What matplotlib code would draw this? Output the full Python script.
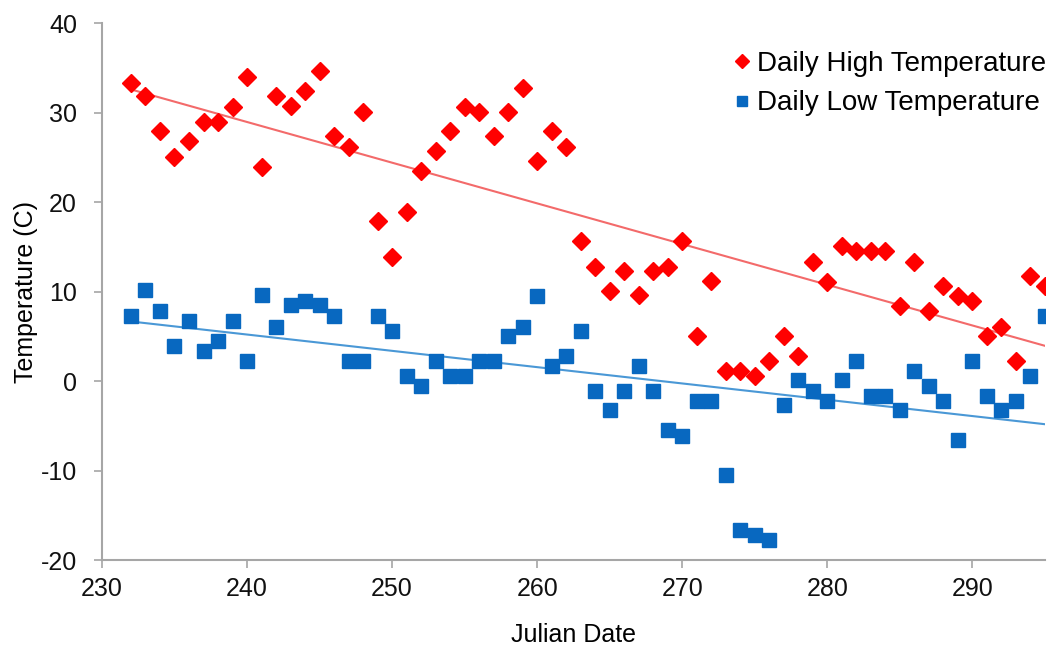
import matplotlib

matplotlib.use("Agg")
import matplotlib.pyplot as plt
import numpy as np

plt.rcParams["font.family"] = ["Liberation Sans", "DejaVu Sans"]
plt.rcParams["axes.unicode_minus"] = False

# Julian dates 232..295
days = list(range(232, 296))

high_temp = [
    33.3, 31.8, 27.9, 25.0, 26.8, 28.9, 28.9, 30.6, 34.0, 23.9,
    31.8, 30.7, 32.4, 34.6, 27.4, 26.1, 30.1, 17.9, 13.9, 18.9,
    23.5, 25.7, 27.9, 30.6, 30.1, 27.4, 30.1, 32.8, 24.6, 27.9,
    26.1, 15.6, 12.8, 10.1, 12.3, 9.6, 12.3, 12.8, 15.6, 5.0,
    11.2, 1.1, 1.1, 0.6, 2.3, 5.0, 2.8, 13.3, 11.1, 15.1,
    14.5, 14.5, 14.5, 8.4, 13.3, 7.8, 10.6, 9.5, 8.9, 5.0,
    6.1, 2.2, 11.7, 10.6,
]

low_temp = [
    7.3, 10.2, 7.8, 3.9, 6.7, 3.4, 4.5, 6.7, 2.2, 9.6,
    6.1, 8.5, 8.9, 8.5, 7.3, 2.2, 2.2, 7.3, 5.6, 0.6,
    -0.6, 2.2, 0.6, 0.6, 2.2, 2.2, 5.0, 6.1, 9.5, 1.7,
    2.8, 5.6, -1.1, -3.2, -1.1, 1.7, -1.1, -5.5, -6.1, -2.2,
    -2.2, -10.5, -16.6, -17.2, -17.8, -2.7, 0.1, -1.1, -2.2, 0.1,
    2.2, -1.7, -1.7, -3.2, 1.1, -0.5, -2.2, -6.6, 2.2, -1.7,
    -3.2, -2.2, 0.6, 7.3,
]

x_ticks = [230, 240, 250, 260, 270, 280, 290]
y_ticks = [-20, -10, 0, 10, 20, 30, 40]

RED = "#ff0000"
BLUE = "#0868c0"
AXIS_GREY = "#a6a6a6"

fig = plt.figure(figsize=(10.62, 6.59), dpi=100)
ax = fig.add_axes([0.096, 0.150, 0.888, 0.815])

x = np.array(days, dtype=float)
hi = np.array(high_temp)
lo = np.array(low_temp)

# linear trendlines
for y, col in ((hi, "#f36a6a"), (lo, "#4a98d6")):
    k, b = np.polyfit(x, y, 1)
    ax.plot([x[0], x[-1]], [k * x[0] + b, k * x[-1] + b], color=col, linewidth=1.5, zorder=2)

ax.plot(x, hi, linestyle="none", marker="D", markersize=9, color=RED,
        label="Daily High Temperature", zorder=3)
ax.plot(x, lo, linestyle="none", marker="s", markersize=10, color=BLUE,
        label="Daily Low Temperature", zorder=3)

ax.set_xlim(230, 295)
ax.set_ylim(-20, 40)
ax.set_xticks(x_ticks)
ax.set_yticks(y_ticks)

for side in ("top", "right"):
    ax.spines[side].set_visible(False)
for side in ("left", "bottom"):
    ax.spines[side].set_color(AXIS_GREY)
    ax.spines[side].set_linewidth(1.5)

ax.tick_params(axis="both", colors=AXIS_GREY, length=6, width=1.2, labelsize=18,
               labelcolor="#111111")
ax.tick_params(axis="y", pad=12)
ax.tick_params(axis="x", pad=6)

ax.set_xlabel("Julian Date", fontsize=18, labelpad=16)
ax.set_ylabel("Temperature (C)", fontsize=18, labelpad=2)

ax.legend(loc="upper right", bbox_to_anchor=(1.022, 0.985), frameon=False, fontsize=20,
          handletextpad=0.05, handlelength=1.0, labelspacing=0.5, markerscale=0.75,
          borderaxespad=0.3)

fig.savefig("out.png", dpi=100)
plt.close(fig)
